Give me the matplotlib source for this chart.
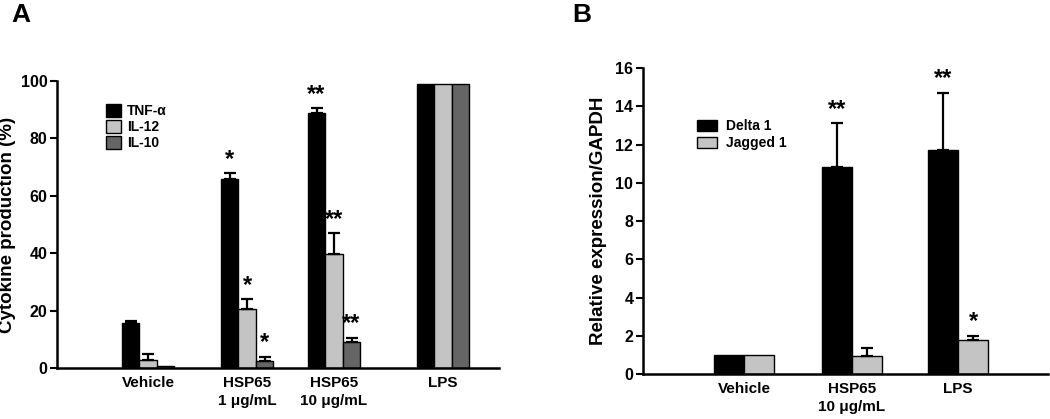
import matplotlib
matplotlib.use("Agg")
import matplotlib.pyplot as plt
from matplotlib.patches import Patch
import numpy as np

plt.rcParams["font.family"] = ["Liberation Sans", "DejaVu Sans"]
plt.rcParams["font.weight"] = "bold"

# Panel A data
groups_a = ["Vehicle", "HSP65\n1 \u03bcg/mL", "HSP65\n10 \u03bcg/mL", "LPS"]
cytokines = ["TNF-\u03b1", "IL-12", "IL-10"]
tnf = [15.8, 65.9, 88.9, 99]
tnf_err = [0.5, 2.0, 1.6, 0]
il12 = [2.8, 20.5, 39.7, 99]
il12_err = [2.1, 3.5, 7.3, 0]
il10 = [0.7, 2.5, 9.1, 99]
il10_err = [0, 1.5, 1.5, 0]
stars_a = [["", "*", "**", ""], ["", "*", "**", ""], ["", "*", "**", ""]]

# Panel B data
groups_b = ["Vehicle", "HSP65\n10 \u03bcg/mL", "LPS"]
genes = ["Delta 1", "Jagged 1"]
delta1 = [1.0, 10.8, 11.7]
delta1_err = [0, 2.3, 3.0]
jagged1 = [1.0, 0.95, 1.78]
jagged1_err = [0, 0.4, 0.22]
stars_b = [["", "**", "**"], ["", "", "*"]]

colors_a = ["black", "#c4c4c4", "#656565"]
colors_b = ["black", "#c4c4c4"]


def style_axis(ax):
    ax.spines["top"].set_visible(False)
    ax.spines["right"].set_visible(False)
    ax.spines["left"].set_linewidth(1.8)
    ax.spines["bottom"].set_linewidth(1.8)
    ax.tick_params(axis="y", direction="out", length=5, width=1.5, labelsize=11.5, pad=2)
    ax.tick_params(axis="x", length=0, labelsize=11, pad=6)
    for lab in ax.get_yticklabels():
        lab.set_fontweight("bold")


def draw_bars(ax, pos, series, errs, stars, colors, width, star_off, star_size):
    n = len(series)
    for k, (vals, err, st, col) in enumerate(zip(series, errs, stars, colors)):
        x = pos + (k - (n - 1) / 2) * width
        ax.bar(x, vals, width, color=col, edgecolor="black", linewidth=1.0, zorder=2)
        e = np.array(err)
        mask = e > 0
        ax.errorbar(x[mask], np.array(vals)[mask], yerr=[np.zeros(mask.sum()), e[mask]],
                    fmt="none", ecolor="black", elinewidth=1.6, capsize=4, capthick=1.6, zorder=3)
        for xi, v, ei, s in zip(x, vals, err, st):
            if s:
                ax.text(xi, v + ei + star_off, s, ha="center", va="center",
                        fontsize=star_size, fontweight="bold")


fig = plt.figure(figsize=(10.5, 4.19), dpi=100)

# Panel A
ax_a = fig.add_axes([0.0543, 0.1217, 0.421, 0.685])
pos_a = np.array([0.91, 1.90, 2.77, 3.86])
draw_bars(ax_a, pos_a, [tnf, il12, il10], [tnf_err, il12_err, il10_err], stars_a,
          colors_a, 0.175, 4.8, 17)
ax_a.set_xlim(0, 4.42)
ax_a.set_ylim(0, 100)
ax_a.set_yticks([0, 20, 40, 60, 80, 100])
ax_a.set_xticks(pos_a)
ax_a.set_xticklabels(groups_a, fontweight="bold", linespacing=1.3)
ax_a.set_ylabel("Cytokine production (%)", fontsize=13.5, fontweight="bold", labelpad=3)
style_axis(ax_a)
handles_a = [Patch(facecolor=c, edgecolor="black", linewidth=1.0) for c in colors_a]
ax_a.legend(handles_a, cytokines, loc="upper left", bbox_to_anchor=(0.095, 0.945),
            frameon=False, fontsize=10, handlelength=1.05, handleheight=1.05,
            handletextpad=0.45, labelspacing=0.15, borderpad=0)
fig.text(0.011, 0.965, "A", fontsize=19, fontweight="bold", va="center")

# Panel B
ax_b = fig.add_axes([0.6124, 0.1074, 0.3857, 0.7303])
pos_b = np.array([1.01, 2.09, 3.15])
draw_bars(ax_b, pos_b, [delta1, jagged1], [delta1_err, jagged1_err], stars_b,
          colors_b, 0.30, 0.75, 17)
ax_b.set_xlim(0, 4.05)
ax_b.set_ylim(0, 16)
ax_b.set_yticks(np.arange(0, 17, 2))
ax_b.set_xticks(pos_b)
ax_b.set_xticklabels(groups_b, fontweight="bold", linespacing=1.3)
ax_b.set_ylabel("Relative expression/GAPDH", fontsize=13.5, fontweight="bold", labelpad=6)
style_axis(ax_b)
handles_b = [Patch(facecolor=c, edgecolor="black", linewidth=1.0) for c in colors_b]
ax_b.legend(handles_b, genes, loc="upper left", bbox_to_anchor=(0.115, 0.855),
            frameon=False, fontsize=10, handlelength=1.5, handleheight=0.9,
            handletextpad=0.6, labelspacing=0.2, borderpad=0)
fig.text(0.545, 0.965, "B", fontsize=19, fontweight="bold", va="center")

fig.savefig("out.png", dpi=100)
